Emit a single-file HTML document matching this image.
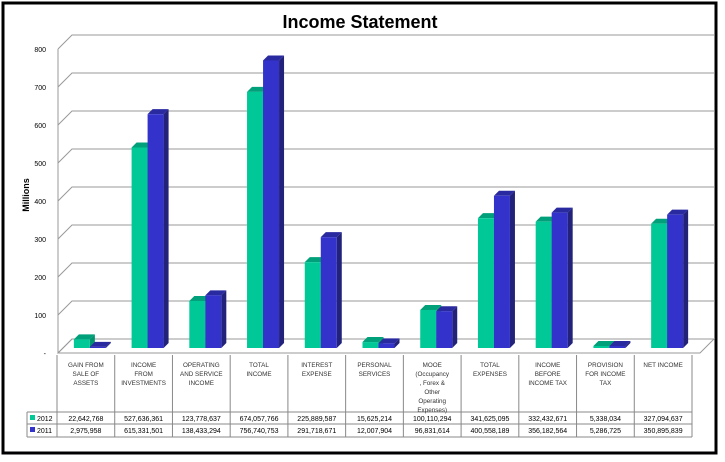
<!DOCTYPE html>
<html><head><meta charset="utf-8"><style>
body{margin:0;background:#fff;font-family:"Liberation Sans",sans-serif}
</style></head><body>
<svg id="c" width="725" height="457" xmlns="http://www.w3.org/2000/svg">
<rect x="3" y="3" width="713" height="450" fill="#fff" stroke="#000" stroke-width="3"/>
<text x="360" y="28" text-anchor="middle" font-size="18" font-weight="bold" fill="#000">Income Statement</text>
<text transform="translate(29,195) rotate(-90)" text-anchor="middle" font-size="9" font-weight="bold">Millions</text>
<g id="g"></g>
</svg>
<script>
const categories=[["GAIN FROM","SALE OF","ASSETS"],["INCOME","FROM","INVESTMENTS"],["OPERATING","AND SERVICE","INCOME"],["TOTAL","INCOME"],["INTEREST","EXPENSE"],["PERSONAL","SERVICES"],["MOOE","(Occupancy",", Forex &","Other","Operating","Expenses)"],["TOTAL","EXPENSES"],["INCOME","BEFORE","INCOME TAX"],["PROVISION","FOR INCOME","TAX"],["NET INCOME"]];
const values2012=[22642768,527636361,123778637,674057766,225889587,15625214,100110294,341625095,332432671,5338034,327094637];
const values2011=[2975958,615331501,138433294,756740753,291718671,12007904,96831614,400558189,356182564,5286725,350895839];
const labels2012=["22,642,768","527,636,361","123,778,637","674,057,766","225,889,587","15,625,214","100,110,294","341,625,095","332,432,671","5,338,034","327,094,637"];
const labels2011=["2,975,958","615,331,501","138,433,294","756,740,753","291,718,671","12,007,904","96,831,614","400,558,189","356,182,564","5,286,725","350,895,839"];
const yTicks=[0,100,200,300,400,500,600,700,800];
const NS="http://www.w3.org/2000/svg",g=document.getElementById('g');
function mk(t,a,p){const e=document.createElementNS(NS,t);for(const k in a)e.setAttribute(k,a[k]);(p||g).appendChild(e);return e;}
const yF=v=>353-v*0.38, yB=v=>339-v*0.38, yBar=v=>348-v/1e6*0.38;
const x0=57,cw=(692-57)/11, cx=i=>x0+cw*i+cw/2;
let e=mk('polygon',{points:"58,353 700,353 714,339 72,339",fill:"#fff",stroke:"#999"});


yTicks.forEach(v=>{
 let l=mk('polyline',{points:`58,${yF(v)} 72,${yB(v)} 714,${yB(v)}`,fill:"none",stroke:"#999","stroke-width":1});
 
 
 let t=mk('text',{x:46,y:yF(v)+3,"text-anchor":"end","font-size":7});t.textContent=v===0?"-":v;
 
 
});
e=mk('line',{x1:58,y1:yF(800),x2:58,y2:353,stroke:"#999"});


function bar(x,w,v,front,side,topc,name){
 const yt=yBar(v),yb=348,d=5;
 const gr=mk('g',{});
 
 
 mk('polygon',{points:`${x+w},${yt} ${x+w+d},${yt-d} ${x+w+d},${yb-d} ${x+w},${yb}`,fill:side},gr);
 mk('polygon',{points:`${x},${yt} ${x+d},${yt-d} ${x+w+d},${yt-d} ${x+w},${yt}`,fill:topc},gr);
 mk('rect',{x:x,y:yt,width:w,height:yb-yt,fill:front},gr);
}
categories.forEach((c,i)=>{
 const c0=cx(i);
 bar(c0-12,16,values2012[i],"#00c896","#00946e","#00a07a","bar-2012");
 bar(c0+4,16,values2011[i],"#3333cc","#22227a","#2a2aa0","bar-2011");
});
const T=mk('g',{});


const tblTop=355,hb=412,r1=424,r2=437;
for(let i=0;i<=11;i++){const x=x0+cw*i;mk('line',{x1:x,y1:tblTop,x2:x,y2:r2,stroke:"#888"},T);}
mk('line',{x1:27,y1:hb,x2:692,y2:hb,stroke:"#888"},T);
mk('line',{x1:27,y1:r1,x2:692,y2:r1,stroke:"#888"},T);
mk('line',{x1:27,y1:r2,x2:692,y2:r2,stroke:"#888"},T);
mk('line',{x1:27,y1:hb,x2:27,y2:r2,stroke:"#888"},T);
categories.forEach((c,i)=>{
 c.forEach((s,j)=>{let t=mk('text',{x:cx(i),y:tblTop+12+j*9,"text-anchor":"middle","font-size":6.3,fill:"#333"},T);t.textContent=s;
 
 });
 let t=mk('text',{x:cx(i),y:hb+9,"text-anchor":"middle","font-size":7},T);t.textContent=labels2012[i];
 
 
 t=mk('text',{x:cx(i),y:r1+9,"text-anchor":"middle","font-size":7},T);t.textContent=labels2011[i];
 
 
});
[["2012","#00c896",hb],["2011","#3333cc",r1]].forEach(([n,col,y])=>{
 const lg=mk('g',{},T);
 
 
 mk('rect',{x:30,y:y+3,width:5,height:5,fill:col},lg);
 const t=mk('text',{x:37,y:y+9,"font-size":7},lg);t.textContent=n;
});
</script>
</body></html>
